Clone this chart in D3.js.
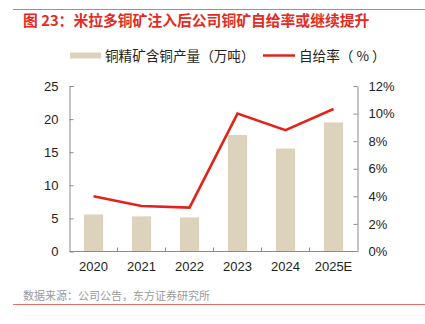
<!DOCTYPE html>
<html>
<head>
<meta charset="utf-8">
<script src="https://cdn.jsdelivr.net/npm/d3@7"></script>
<style>
  body { margin: 0; background: #fff; }
  svg { display: block; }
  text { font-family: "Liberation Sans", Arial, "Noto Sans CJK SC", sans-serif; }
  .cjk { font-family: "Noto Sans CJK SC", "Liberation Sans", sans-serif; }
</style>
</head>
<body>
<div id="chart"></div>
<script>
const years = ["2020", "2021", "2022", "2023", "2024", "2025E"];
const output = [5.6, 5.3, 5.15, 17.6, 15.55, 19.5];   // 万吨
const selfRate = [4.0, 3.3, 3.18, 10.0, 8.8, 10.33];   // %
const leftTicks = [0, 5, 10, 15, 20, 25];
const rightTicks = [0, 2, 4, 6, 8, 10, 12];

const width = 425, height = 324;
const plot = {left: 69.5, right: 357.5, top: 86, bottom: 251.5};

const svg = d3.select("#chart").append("svg")
    .attr("width", width)
    .attr("height", height);

// frame lines
svg.append("line")
    .attr("x1", 13).attr("x2", width)
    .attr("y1", 9.5).attr("y2", 9.5)
    .style("stroke", "#ec6f6a")
    .style("stroke-width", 1.2);
svg.append("line")
    .attr("x1", 13).attr("x2", width)
    .attr("y1", 304.5).attr("y2", 304.5)
    .style("stroke", "#ec6f6a")
    .style("stroke-width", 1.2);

svg.append("text")
    .attr("class", "cjk")
    .attr("x", 23)
    .attr("y", 26)
    .attr("font-size", "14.8px")
    .attr("font-weight", "bold")
    .attr("fill", "#e32b23")
    .text("图 23：米拉多铜矿注入后公司铜矿自给率或继续提升");

svg.append("text")
    .attr("class", "cjk")
    .attr("x", 23)
    .attr("y", 300)
    .attr("font-size", "11px")
    .attr("fill", "#9a9a9a")
    .text("数据来源：公司公告，东方证券研究所");

// legend
svg.append("rect")
    .attr("x", 70).attr("y", 52.5)
    .attr("width", 31).attr("height", 6)
    .style("fill", "#ddd3bc");
svg.append("text")
    .attr("class", "cjk")
    .attr("x", 105).attr("y", 60.5)
    .attr("font-size", "13.6px")
    .attr("fill", "#222")
    .text("铜精矿含铜产量（万吨）");
svg.append("line")
    .attr("x1", 263).attr("x2", 295)
    .attr("y1", 55.5).attr("y2", 55.5)
    .style("stroke", "#e3231b")
    .style("stroke-width", 2.5);
svg.append("text")
    .attr("class", "cjk")
    .attr("x", 299).attr("y", 60.5)
    .attr("font-size", "13.6px")
    .attr("fill", "#222")
    .text("自给率（ % ）");

// scales
const x = d3.scaleBand()
    .domain(years)
    .range([plot.left, plot.right])
    .paddingInner(0.6)
    .paddingOuter(0.3);
const yLeft = d3.scaleLinear().domain([0, 25]).range([plot.bottom, plot.top]);
const yRight = d3.scaleLinear().domain([0, 12]).range([plot.bottom, plot.top]);

// bars
svg.selectAll(".bar")
    .data(years)
    .join("rect")
    .classed("bar", true)
    .attr("x", d => x(d))
    .attr("y", (d, i) => yLeft(output[i]))
    .attr("width", x.bandwidth())
    .attr("height", (d, i) => plot.bottom - yLeft(output[i]))
    .style("fill", "#ddd3bc");

// axes
const axisColor = "#8a8a8a";
const leftAxis = svg.append("g")
    .attr("transform", `translate(${plot.left},0)`)
    .call(d3.axisLeft(yLeft).tickValues(leftTicks).tickSizeInner(-4).tickSizeOuter(-4).tickPadding(11));
const rightAxis = svg.append("g")
    .attr("transform", `translate(${plot.right},0)`)
    .call(d3.axisRight(yRight).tickValues(rightTicks).tickFormat(d => d + "%")
        .tickSizeInner(-4).tickSizeOuter(0).tickPadding(11));

[leftAxis, rightAxis].forEach(g => {
    g.select(".domain").style("stroke", axisColor);
    g.selectAll(".tick line").style("stroke", axisColor);
    g.selectAll(".tick text")
        .attr("font-size", "13px")
        .attr("fill", "#222")
        .style("font-family", "'Liberation Sans', Arial, sans-serif");
});
leftAxis.select(".tick:first-of-type line").remove();
rightAxis.select(".tick:first-of-type line").remove();

// bottom axis: ticks sit on the band boundaries
const step = x.step();
const bounds = d3.range(1, years.length).map(i => plot.left + i * step);
svg.append("line")
    .attr("x1", plot.left).attr("x2", plot.right)
    .attr("y1", plot.bottom).attr("y2", plot.bottom)
    .style("stroke", axisColor);
svg.selectAll(".xTick")
    .data(bounds)
    .join("line")
    .classed("xTick", true)
    .attr("x1", d => d).attr("x2", d => d)
    .attr("y1", plot.bottom).attr("y2", plot.bottom - 4)
    .style("stroke", axisColor);
svg.selectAll(".xLabel")
    .data(years)
    .join("text")
    .classed("xLabel", true)
    .attr("x", d => x(d) + x.bandwidth() / 2)
    .attr("y", 271)
    .attr("text-anchor", "middle")
    .attr("font-size", "13px")
    .attr("fill", "#222")
    .text(d => d);

// self-sufficiency line
const line = d3.line()
    .x((d, i) => x(years[i]) + x.bandwidth() / 2)
    .y(d => yRight(d));
svg.append("path")
    .datum(selfRate)
    .attr("d", line)
    .style("fill", "none")
    .style("stroke", "#e3231b")
    .style("stroke-width", 2.6)
    .style("stroke-linejoin", "miter");
</script>
</body>
</html>
